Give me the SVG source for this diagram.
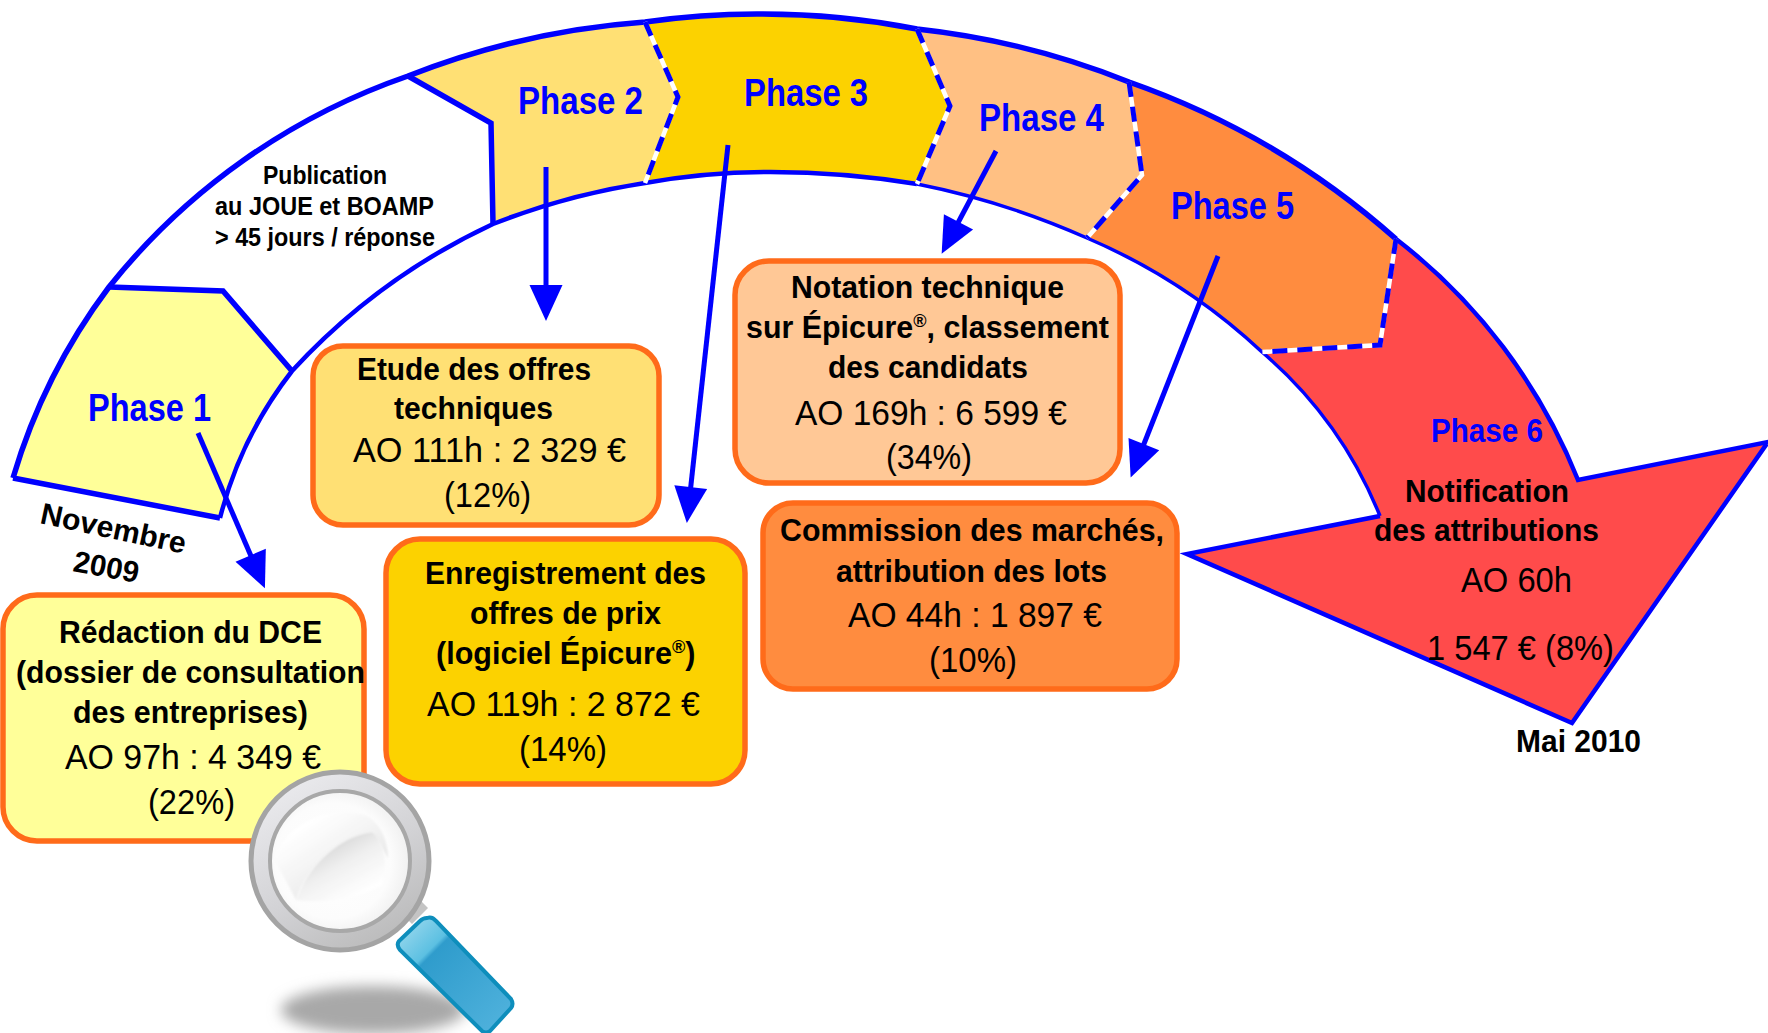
<svg xmlns="http://www.w3.org/2000/svg" width="1768" height="1033" viewBox="0 0 1768 1033">
<style>
text{font-family:"Liberation Sans",Arial,sans-serif;fill:#000}
.b{font-weight:700;font-size:32px}
.r{font-size:35px}
.p{font-weight:700;font-size:38px;fill:#0000ff}
.s{font-weight:700;font-size:26px}
.d{font-weight:700;font-size:30px}
.box{stroke:#ff6b1a;stroke-width:5.5}
.solid{fill:none;stroke:#0000ff;stroke-width:5.5}
.wh{fill:none;stroke:#fff;stroke-width:4.5}
.da{fill:none;stroke:#0000ff;stroke-width:5;stroke-dasharray:15 10}
.con{fill:none;stroke:#0000ff;stroke-width:5}
</style>
<defs>
<marker id="ah" markerUnits="userSpaceOnUse" markerWidth="38" markerHeight="35" refX="17" refY="17.5" orient="auto"><path d="M1,1 L37,17.5 L1,34 Z" fill="#0000ff"/></marker>
<radialGradient id="glass" cx="0.45" cy="0.5" r="0.55"><stop offset="0" stop-color="#fff"/><stop offset="0.75" stop-color="#fcfcfc"/><stop offset="1" stop-color="#f0f0f0"/></radialGradient>
<linearGradient id="ring" x1="0.2" y1="0" x2="0.8" y2="1"><stop offset="0" stop-color="#ececef"/><stop offset="0.55" stop-color="#d2d2d5"/><stop offset="1" stop-color="#b8b8b8"/></linearGradient>
<linearGradient id="handle" x1="0" y1="0" x2="1" y2="1"><stop offset="0" stop-color="#a8def0"/><stop offset="0.28" stop-color="#5cc0e2"/><stop offset="0.31" stop-color="#2f9ccc"/><stop offset="1" stop-color="#53b4de"/></linearGradient>
<linearGradient id="shine" x1="0.25" y1="0.1" x2="0.8" y2="0.85"><stop offset="0" stop-color="#cfcfcf"/><stop offset="0.5" stop-color="#f0f0f0"/><stop offset="1" stop-color="#fff"/></linearGradient>
<linearGradient id="shine2" x1="0.2" y1="0.2" x2="0.8" y2="0.9"><stop offset="0" stop-color="#fff"/><stop offset="1" stop-color="#e4e4e4"/></linearGradient>
<filter id="bl" x="-30%" y="-60%" width="160%" height="220%"><feGaussianBlur stdDeviation="7"/></filter>
<filter id="bl2" x="-30%" y="-30%" width="160%" height="160%"><feGaussianBlur stdDeviation="1"/></filter>
</defs>

<g id="phase-1">
<path d="M13,478 A600,600 0 0 1 109,287 L223,291 L292,371 A400,400 0 0 0 220,518 Z" fill="#ffff99"/>
<text class="p" x="88" y="421" textLength="123" lengthAdjust="spacingAndGlyphs">Phase 1</text>
</g>
<g id="publication">
<text class="s" x="263" y="184" textLength="124" lengthAdjust="spacingAndGlyphs">Publication</text>
<text class="s" x="215" y="215" textLength="219" lengthAdjust="spacingAndGlyphs">au JOUE et BOAMP</text>
<text class="s" x="215" y="246" textLength="220" lengthAdjust="spacingAndGlyphs">&gt; 45 jours / réponse</text>
</g>
<g id="phase-2">
<path d="M408,76 L491,123 L493,224 A700,700 0 0 1 645,183 L678,97 L645,22 A800,800 0 0 0 408,76 Z" fill="#ffe074"/>
<text class="p" x="518" y="113.500" textLength="125" lengthAdjust="spacingAndGlyphs">Phase 2</text>
</g>
<g id="phase-3">
<path d="M645,22 L678,97 L645,183 A700,700 0 0 1 767,172 A900,900 0 0 1 917,184 L950,106 L917,29 A800,800 0 0 0 757,14 A800,800 0 0 0 645,22 Z" fill="#fcd200"/>
<text class="p" x="744" y="105.500" textLength="124" lengthAdjust="spacingAndGlyphs">Phase 3</text>
</g>
<g id="phase-4">
<path d="M917,29 L950,106 L917,184 A800,800 0 0 1 1087,238 L1142,175 L1129,82 A800,800 0 0 0 917,29 Z" fill="#ffc083"/>
<text class="p" x="979" y="130.500" textLength="125" lengthAdjust="spacingAndGlyphs">Phase 4</text>
</g>
<g id="phase-5">
<path d="M1129,82 L1142,175 L1087,238 A600,600 0 0 1 1262,352 L1380,345 L1396,239 A800,800 0 0 0 1129,82 Z" fill="#ff8c3f"/>
<text class="p" x="1171" y="218.500" textLength="123" lengthAdjust="spacingAndGlyphs">Phase 5</text>
</g>
<g id="phase-6">
<path d="M1396,239 A570,570 0 0 1 1578,480 L1768,442 L1572,723 L1187,554 L1380,516 A425,425 0 0 0 1262,352 L1380,345 Z" fill="#ff4b4b"/>
</g>

<g id="outline">
<path class="solid" d="M13,478 A600,600 0 0 1 109,287 A657,657 0 0 1 408,76 A800,800 0 0 1 645,22 A800,800 0 0 1 757,14 A800,800 0 0 1 917,29 A800,800 0 0 1 1129,82 A800,800 0 0 1 1396,239"/>
<path class="solid" style="stroke-width:4.5" d="M1396,239 A570,570 0 0 1 1578,480 L1768,442 L1572,723 L1187,554 L1380,516"/>
<path class="solid" style="stroke-width:3.5" d="M1380,516 A425,425 0 0 0 1262,352 A600,600 0 0 0 1087,238 A800,800 0 0 0 917,184"/>
<path class="solid" style="stroke-width:4.5" d="M917,184 A900,900 0 0 0 767,172 A700,700 0 0 0 645,183 A700,700 0 0 0 493,224 A640,640 0 0 0 292,371 A400,400 0 0 0 220,518"/>
<path class="solid" d="M220,518 L13,478"/>
<path class="solid" d="M109,287 L223,291 L292,371"/>
<path class="solid" d="M408,76 L491,123 L493,224"/>
<path class="wh" d="M645,22 L678,97 L645,183"/><path class="da" d="M645,22 L678,97 L645,183"/>
<path class="wh" d="M917,29 L950,106 L917,184"/><path class="da" d="M917,29 L950,106 L917,184"/>
<path class="wh" d="M1129,82 L1142,175 L1087,238"/><path class="da" d="M1129,82 L1142,175 L1087,238"/>
<path class="wh" d="M1396,239 L1380,345 L1262,352"/><path class="da" d="M1396,239 L1380,345 L1262,352"/>
</g>

<g id="box-dce">
<rect class="box" x="3" y="595" width="361" height="246" rx="34" fill="#ffff99"/>
<text class="b" x="59" y="643" textLength="263" lengthAdjust="spacingAndGlyphs">Rédaction du DCE</text>
<text class="b" x="16" y="683" textLength="349" lengthAdjust="spacingAndGlyphs">(dossier de consultation</text>
<text class="b" x="73" y="723" textLength="235" lengthAdjust="spacingAndGlyphs">des entreprises)</text>
<text class="r" x="65" y="768.500" textLength="256" lengthAdjust="spacingAndGlyphs">AO 97h : 4 349 €</text>
<text class="r" x="148" y="813.500" textLength="87" lengthAdjust="spacingAndGlyphs">(22%)</text>
</g>
<g id="box-etude">
<rect class="box" x="313" y="346" width="346" height="179" rx="30" fill="#ffe074"/>
<text class="b" x="357" y="380" textLength="234" lengthAdjust="spacingAndGlyphs">Etude des offres</text>
<text class="b" x="394" y="419" textLength="159" lengthAdjust="spacingAndGlyphs">techniques</text>
<text class="r" x="353" y="461.500" textLength="273" lengthAdjust="spacingAndGlyphs">AO 111h : 2 329 €</text>
<text class="r" x="444" y="506.500" textLength="87" lengthAdjust="spacingAndGlyphs">(12%)</text>
</g>
<g id="box-enregistrement">
<rect class="box" x="386" y="539" width="359" height="245" rx="34" fill="#fcd200"/>
<text class="b" x="425" y="584" textLength="281" lengthAdjust="spacingAndGlyphs">Enregistrement des</text>
<text class="b" x="470" y="624" textLength="191" lengthAdjust="spacingAndGlyphs">offres de prix</text>
<text class="b" transform="translate(436,664) scale(.955,1)">(logiciel Épicure<tspan font-size="19" dy="-11">®</tspan><tspan dy="11">)</tspan></text>
<text class="r" x="427" y="715.500" textLength="273" lengthAdjust="spacingAndGlyphs">AO 119h : 2 872 €</text>
<text class="r" x="519" y="760.500" textLength="88" lengthAdjust="spacingAndGlyphs">(14%)</text>
</g>
<g id="box-notation">
<rect class="box" x="735" y="261" width="385" height="222" rx="34" fill="#ffc896"/>
<text class="b" x="791" y="298" textLength="273" lengthAdjust="spacingAndGlyphs">Notation technique</text>
<text class="b" transform="translate(746,338) scale(.95,1)">sur Épicure<tspan font-size="19" dy="-11">®</tspan><tspan dy="11">, classement</tspan></text>
<text class="b" x="828" y="378" textLength="200" lengthAdjust="spacingAndGlyphs">des candidats</text>
<text class="r" x="795" y="424.500" textLength="272" lengthAdjust="spacingAndGlyphs">AO 169h : 6 599 €</text>
<text class="r" x="886" y="468.500" textLength="86" lengthAdjust="spacingAndGlyphs">(34%)</text>
</g>
<g id="box-commission">
<rect class="box" x="763" y="503" width="414" height="186" rx="30" fill="#ff8c3f"/>
<text class="b" x="780" y="541" textLength="384" lengthAdjust="spacingAndGlyphs">Commission des marchés,</text>
<text class="b" x="836" y="582" textLength="271" lengthAdjust="spacingAndGlyphs">attribution des lots</text>
<text class="r" x="848" y="626.500" textLength="254" lengthAdjust="spacingAndGlyphs">AO 44h : 1 897 €</text>
<text class="r" x="929" y="671.500" textLength="88" lengthAdjust="spacingAndGlyphs">(10%)</text>
</g>
<g id="notification">
<text class="p" style="font-size:34px" x="1431" y="442" textLength="112" lengthAdjust="spacingAndGlyphs">Phase 6</text>
<text class="b" x="1405" y="501.500" textLength="164" lengthAdjust="spacingAndGlyphs">Notification</text>
<text class="b" x="1374" y="541" textLength="225" lengthAdjust="spacingAndGlyphs">des attributions</text>
<text class="r" x="1461" y="591.500" textLength="111" lengthAdjust="spacingAndGlyphs">AO 60h</text>
<text class="r" x="1427" y="659.500" textLength="187" lengthAdjust="spacingAndGlyphs">1 547 € (8%)</text>
</g>
<g id="dates">
<text class="d" transform="translate(39,523) rotate(12)" textLength="148" lengthAdjust="spacingAndGlyphs">Novembre</text>
<text class="d" transform="translate(72,571) rotate(10.5)" textLength="66" lengthAdjust="spacingAndGlyphs">2009</text>
<text class="b" x="1516" y="751.500" textLength="125" lengthAdjust="spacingAndGlyphs">Mai 2010</text>
</g>

<g id="connectors">
<path class="con" marker-end="url(#ah)" d="M198,433 L257,570"/>
<path class="con" marker-end="url(#ah)" d="M546,167 L546,301"/>
<path class="con" marker-end="url(#ah)" d="M728,145 L689,503"/>
<path class="con" marker-end="url(#ah)" d="M996,151 L951,236"/>
<path class="con" marker-end="url(#ah)" d="M1218,256 L1138,459"/>
</g>

<g id="magnifier">
<ellipse cx="373" cy="1010" rx="92" ry="24" fill="#a8a8a8" filter="url(#bl)"/>
<path d="M400,912 L416,896 L428,908 L412,924 Z" fill="#c4c4c4"/>
<path d="M427,918 Q432,916 436,921 L511,999 Q514,1004 511,1008 L490,1031 Q486,1034 482,1031 L400,950 Q396,945 399,941 L420,921 Q423,918 427,918 Z" fill="url(#handle)" stroke="#0e8ebc" stroke-width="4"/>
<circle cx="340" cy="861" r="89" fill="url(#ring)" stroke="#a4a4a4" stroke-width="5"/>
<circle cx="340" cy="861" r="70" fill="url(#glass)" stroke="#a8a8a8" stroke-width="4"/>
<path d="M275,860 C285,825 325,805 365,815 C380,822 388,840 388,858 L372,832 C345,835 310,860 296,900 Z" fill="url(#shine2)" filter="url(#bl2)"/>
<path d="M296,900 C310,860 345,835 372,832 C385,842 388,865 382,885 C365,895 330,905 296,900 Z" fill="url(#shine)" filter="url(#bl2)"/>
</g>
</svg>
